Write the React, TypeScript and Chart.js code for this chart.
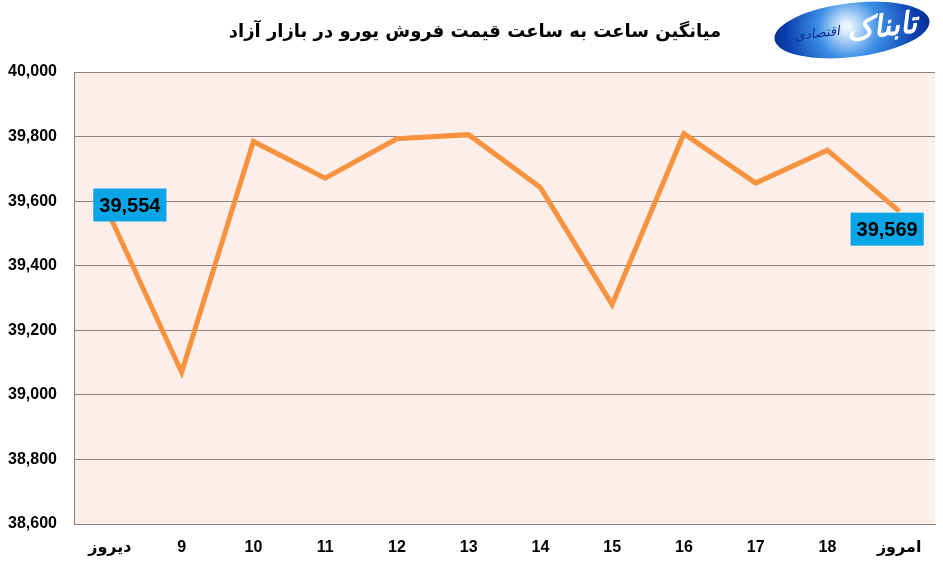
import React, { useEffect, useRef } from "react";
import { Chart, registerables } from "chart.js";

Chart.register(...registerables);

const categories = ["دیروز", "9", "10", "11", "12", "13", "14", "15", "16", "17", "18", "امروز"];
const prices = [39554, 39070, 39785, 39671, 39793, 39806, 39642, 39280, 39809, 39656, 39758, 39569];
const yMin = 38600;
const yMax = 40000;
const yStep = 200;
const titleText = "میانگین ساعت به ساعت قیمت فروش یورو در بازار آزاد";
const logoMain = "تابناک";
const logoSub = "اقتصادی";

const fmt = (v: number) => v.toLocaleString("en-US");

export default function App() {
  const ref = useRef<HTMLCanvasElement>(null);
  useEffect(() => {
    document.body.style.margin = "0";
    const canvas = ref.current!;
    const bgPlugin = {
      id: "bg",
      beforeDraw(chart: any) {
        const { ctx, chartArea } = chart;
        ctx.save();
        ctx.fillStyle = "#fcefea";
        ctx.fillRect(chartArea.left, chartArea.top, chartArea.right - chartArea.left, chartArea.bottom - chartArea.top);
        ctx.restore();
      },
    };
    const decorPlugin = {
      id: "decor",
      afterDraw(chart: any) {
        const { ctx } = chart;
        ctx.save();
        // title
        ctx.fillStyle = "#000";
        ctx.font = "bold 18px 'DejaVu Sans'";
        ctx.textAlign = "center";
        ctx.textBaseline = "middle";
        ctx.direction = "rtl";
        ctx.fillText(titleText, 475, 32);
        // logo
        ctx.save();
        ctx.translate(852, 30);
        ctx.rotate(-0.12);
        const g = ctx.createRadialGradient(-5, -4, 4, 0, 0, 80);
        g.addColorStop(0, "#e8f4ff");
        g.addColorStop(0.35, "#3d8fe6");
        g.addColorStop(0.8, "#0b3fb0");
        g.addColorStop(1, "#0a2e8a");
        ctx.fillStyle = g;
        ctx.beginPath();
        ctx.ellipse(0, 0, 78, 27, 0, 0, Math.PI * 2);
        ctx.fill();
        ctx.fillStyle = "#ffffff";
        ctx.font = "italic bold 30px 'DejaVu Sans'";
        ctx.textAlign = "center";
        ctx.fillText(logoMain, 30, 2);
        ctx.font = "italic 13px 'DejaVu Sans'";
        ctx.fillStyle = "#0a2e8a";
        ctx.fillText(logoSub, -35, 0);
        ctx.restore();
        // value labels at first and last points
        const meta = chart.getDatasetMeta(0);
        const pts = meta.data;
        const drawBox = (i: number, dx: number, dy: number) => {
          const p = pts[i];
          const txt = fmt(prices[i]);
          ctx.font = "bold 20px 'Liberation Sans'";
          const w = ctx.measureText(txt).width + 12;
          const h = 33;
          const cx = p.x + dx;
          const cy = p.y + dy;
          ctx.fillStyle = "#0aa5e6";
          ctx.fillRect(cx - w / 2, cy - h / 2, w, h);
          ctx.fillStyle = "#000";
          ctx.textAlign = "center";
          ctx.textBaseline = "middle";
          ctx.direction = "ltr";
          ctx.fillText(txt, cx, cy + 1);
        };
        drawBox(0, 20, -11);
        drawBox(prices.length - 1, -12, 18);
        ctx.restore();
      },
    };
    const chart = new Chart(canvas, {
      type: "line",
      data: {
        labels: categories,
        datasets: [
          {
            data: prices,
            borderColor: "#f7923f",
            borderWidth: 5,
            pointRadius: 0,
            tension: 0,
            borderCapStyle: "butt",
            borderJoinStyle: "miter",
          },
        ],
      },
      options: {
        animation: false,
        responsive: false,
        layout: { padding: { top: 72, right: 8, left: 0, bottom: 0 } },
        plugins: { legend: { display: false }, tooltip: { enabled: false }, title: { display: false } },
        scales: {
          x: {
            offset: true,
            grid: { display: false, drawTicks: false },
            border: { display: true, color: "#8c8282", width: 1 },
            ticks: { color: "#000", font: { family: "'Liberation Sans', 'DejaVu Sans'", size: 16, weight: "bold" }, padding: 14, maxRotation: 0, autoSkip: false },
            afterFit(scale: any) {
              scale.height = 43;
            },
          },
          y: {
            min: yMin,
            max: yMax,
            grid: { color: "#8c8282", lineWidth: 1, drawTicks: false },
            border: { display: true, color: "#8c8282", width: 1 },
            ticks: {
              stepSize: yStep,
              color: "#000",
              padding: 17,
              font: { family: "'Liberation Sans'", size: 16, weight: "bold" },
              callback: (v: any) => fmt(Number(v)),
            },
            afterFit(scale: any) {
              scale.width = 74;
            },
          },
        },
      },
      plugins: [bgPlugin, decorPlugin],
    } as any);
    return () => chart.destroy();
  }, []);
  return <canvas ref={ref} width={943} height={567} style={{ display: "block" }} />;
}
